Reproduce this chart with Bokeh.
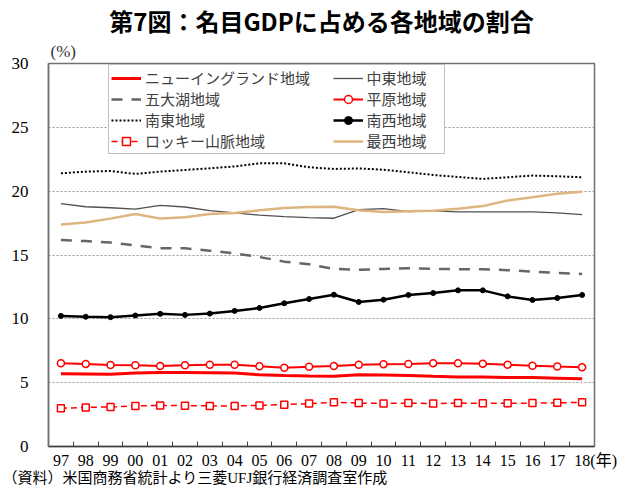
from bokeh.plotting import figure
from bokeh.models import FixedTicker, Legend, LegendItem, Range1d, Title
from bokeh.embed import file_html
from bokeh.resources import INLINE

years = ["97", "98", "99", "00", "01", "02", "03", "04", "05", "06", "07",
         "08", "09", "10", "11", "12", "13", "14", "15", "16", "17", "18"]

new_england = [5.70, 5.68, 5.65, 5.76, 5.80, 5.80, 5.78, 5.75, 5.62, 5.56, 5.52,
               5.50, 5.62, 5.60, 5.56, 5.50, 5.45, 5.45, 5.40, 5.40, 5.35, 5.30]
mideast = [19.02, 18.78, 18.70, 18.60, 18.89, 18.76, 18.47, 18.30, 18.12, 18.00, 17.93,
           17.88, 18.55, 18.63, 18.40, 18.45, 18.38, 18.38, 18.38, 18.38, 18.30, 18.16]
great_lakes = [16.17, 16.09, 15.98, 15.75, 15.52, 15.52, 15.34, 15.13, 14.84, 14.48, 14.27,
               13.91, 13.84, 13.91, 13.96, 13.91, 13.89, 13.89, 13.81, 13.70, 13.60, 13.52]
plains = [6.53, 6.47, 6.38, 6.36, 6.30, 6.36, 6.40, 6.40, 6.28, 6.17, 6.25,
          6.30, 6.40, 6.45, 6.47, 6.53, 6.53, 6.49, 6.41, 6.33, 6.26, 6.20]
southeast = [21.40, 21.53, 21.58, 21.35, 21.53, 21.66, 21.79, 21.94, 22.18, 22.18, 21.87,
             21.74, 21.78, 21.68, 21.48, 21.27, 21.11, 20.96, 21.09, 21.22, 21.17, 21.09]
southwest = [10.23, 10.16, 10.13, 10.26, 10.39, 10.31, 10.41, 10.62, 10.85, 11.22, 11.55,
             11.89, 11.32, 11.50, 11.87, 12.02, 12.23, 12.23, 11.76, 11.48, 11.63, 11.87]
rocky = [3.00, 3.06, 3.10, 3.18, 3.22, 3.20, 3.18, 3.18, 3.22, 3.28, 3.36,
         3.46, 3.40, 3.37, 3.40, 3.36, 3.40, 3.38, 3.38, 3.40, 3.42, 3.46]
far_west = [17.38, 17.54, 17.85, 18.21, 17.85, 17.95, 18.21, 18.29, 18.50, 18.68, 18.76,
            18.78, 18.50, 18.37, 18.42, 18.47, 18.63, 18.83, 19.27, 19.53, 19.79, 19.95]

y_ticks = [0, 5, 10, 15, 20, 25, 30]

title_text = "第7図：名目GDPに占める各地域の割合"
unit_text = "(%)"
year_unit = "(年)"
source_text = "（資料）米国商務省統計より三菱UFJ銀行経済調査室作成"

idx = list(range(len(years)))

SERIF = "Liberation Serif"
MIX = "Liberation Serif, Noto Sans CJK JP"
CJK = "Noto Sans CJK JP"

p = figure(width=617, height=486, output_backend="svg", toolbar_location=None,
           x_range=Range1d(-0.5, len(years) - 0.5), y_range=Range1d(0, 30),
           min_border_left=48, min_border_right=23, min_border_top=63, min_border_bottom=40,
           background_fill_color="white", border_fill_color="white")

p.outline_line_color = "#707070"
p.outline_line_width = 1.5

# x axis: labels at category centres, small tick marks at category boundaries
labels = {i: y for i, y in zip(idx, years)}
labels[idx[-1]] = "\u2003\u2002\u2009" + years[-1] + year_unit
p.xaxis.ticker = FixedTicker(ticks=idx, minor_ticks=[i + 0.5 for i in idx[:-1]])
p.xaxis.major_label_overrides = labels
p.xaxis.major_tick_line_color = None
p.xaxis.major_tick_out = 0
p.xaxis.major_tick_in = 0
p.xaxis.minor_tick_in = 5
p.xaxis.minor_tick_out = 0
p.xaxis.minor_tick_line_color = "#404040"
p.xaxis.axis_line_color = "#404040"
p.xaxis.axis_line_width = 1.5
p.xaxis.major_label_standoff = 5
p.xaxis.major_label_text_font = MIX
p.xaxis.major_label_text_font_size = "16px"
p.xaxis.major_label_text_color = "black"
p.xgrid.visible = False

# y axis
p.yaxis.ticker = FixedTicker(ticks=y_ticks)
p.yaxis.major_tick_line_color = None
p.yaxis.minor_tick_line_color = None
p.yaxis.major_tick_out = 0
p.yaxis.major_tick_in = 0
p.yaxis.axis_line_color = "#707070"
p.yaxis.axis_line_width = 1.5
p.yaxis.major_label_standoff = 20
p.yaxis.major_label_text_font = SERIF
p.yaxis.major_label_text_font_size = "17px"
p.yaxis.major_label_text_color = "black"
p.ygrid.grid_line_color = "#999999"
p.ygrid.grid_line_dash = "2 2"
p.ygrid.grid_line_width = 1

# series
r_ne = p.line(idx, new_england, line_color="#FF0000", line_width=3)
r_me = p.line(idx, mideast, line_color="#505050", line_width=1.3)
r_gl = p.line(idx, great_lakes, line_color="#666666", line_width=2.5, line_dash="11 9")
r_pl_l = p.line(idx, plains, line_color="#FF0000", line_width=2)
r_pl_m = p.scatter(idx, plains, marker="circle", size=7, line_color="#FF0000",
                   line_width=1.5, fill_color="white")
r_se = p.line(idx, southeast, line_color="#000000", line_width=2, line_dash="2 2")
r_sw_l = p.line(idx, southwest, line_color="#000000", line_width=2.5)
r_sw_m = p.scatter(idx, southwest, marker="circle", size=5, line_color="#000000",
                   fill_color="#000000")
r_rk_l = p.line(idx, rocky, line_color="#FF0000", line_width=1.5, line_dash="6 4")
r_rk_m = p.scatter(idx, rocky, marker="square", size=7, line_color="#FF0000",
                   line_width=1.5, fill_color="white")
r_fw = p.line(idx, far_west, line_color="#DDB57F", line_width=2.5)

items = [
    LegendItem(label="ニューイングランド地域\u2003\u2002", renderers=[r_ne]),
    LegendItem(label="五大湖地域", renderers=[r_gl]),
    LegendItem(label="南東地域", renderers=[r_se]),
    LegendItem(label="ロッキー山脈地域", renderers=[r_rk_l, r_rk_m]),
    LegendItem(label="中東地域", renderers=[r_me]),
    LegendItem(label="平原地域", renderers=[r_pl_l, r_pl_m]),
    LegendItem(label="南西地域", renderers=[r_sw_l, r_sw_m]),
    LegendItem(label="最西地域\u2003", renderers=[r_fw]),
]
legend = Legend(items=items, location=(60, 292), nrows=4, orientation="vertical",
                glyph_width=30, glyph_height=20, label_height=20, label_standoff=4,
                spacing=0, padding=2, margin=0,
                label_text_font=MIX, label_text_font_size="15px",
                label_text_line_height=1.0,
                label_text_color="#404040",
                border_line_color="#808080", border_line_width=1,
                background_fill_color="white", background_fill_alpha=1)
p.add_layout(legend, "center")

# texts outside the frame live in layout panels
p.title.text = ""
p.title.visible = False
p.add_layout(Title(text=unit_text, align="left", offset=2, standoff=5,
                   text_font=SERIF, text_font_size="17px", text_font_style="normal",
                   text_color="#333333"), "above")
p.add_layout(Title(text=title_text, align="center", standoff=0,
                   text_font=CJK, text_font_size="24px", text_font_style="bold",
                   text_color="black"), "above")
p.add_layout(Title(text=source_text, align="left", offset=-46, standoff=-7,
                   text_font=MIX, text_font_size="15px", text_font_style="normal",
                   text_color="black"), "below")

open("out.html", "w").write(file_html(p, INLINE))
